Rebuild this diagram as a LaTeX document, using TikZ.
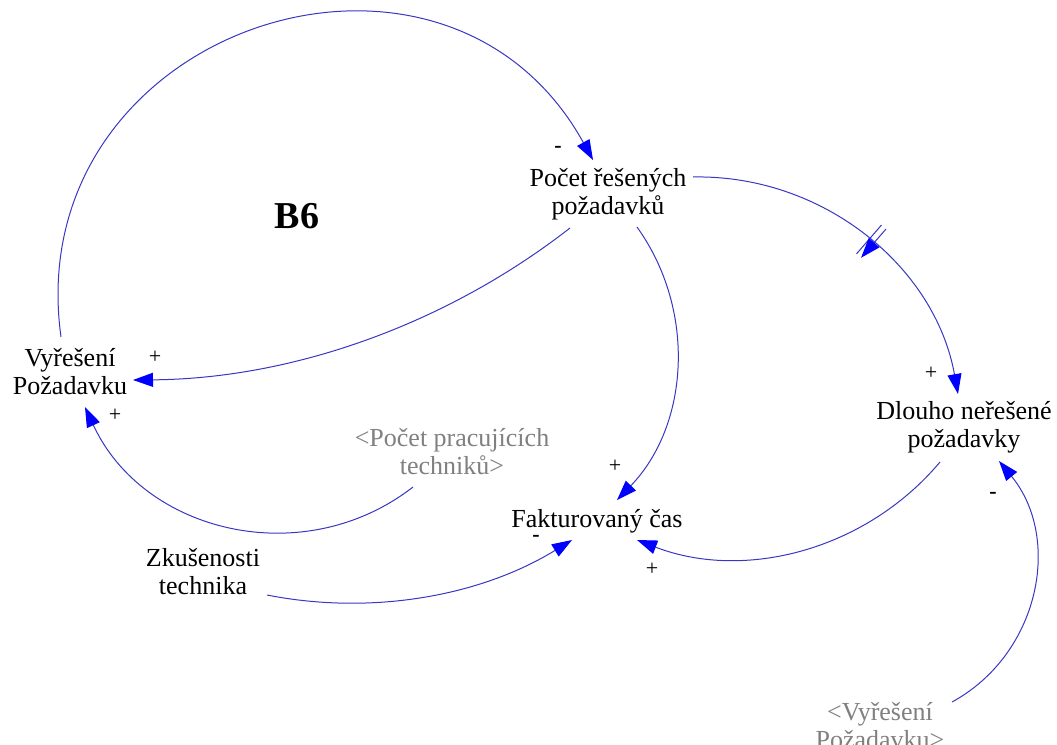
\documentclass[tikz,border=0pt]{standalone}
\usepackage{fontspec}
\setmainfont{Liberation Serif}
\usetikzlibrary{arrows.meta,decorations.markings}
\definecolor{linkblue}{RGB}{55,55,195}
\definecolor{headblue}{RGB}{0,0,255}
\definecolor{shadowtext}{RGB}{128,128,128}
\tikzset{
  var/.style={align=center, inner sep=0pt, font=\fontsize{26}{28}\selectfont,
    execute at begin node=\strut, execute at end node=\strut},
  shadowvar/.style={var, text=shadowtext},
  link/.style={draw=linkblue, line width=1pt,
    -{Triangle[length=20pt,width=14pt,color=headblue]}},
  polarity/.style={font=\fontsize{22}{24}\selectfont, inner sep=0pt},
  negpolarity/.style={font=\fontsize{22}{24}\selectfont\bfseries, inner sep=0pt},
  delaymark/.style={postaction={decorate}, decoration={markings,
    mark=at position #1 with {\draw[linkblue, line width=1pt]
      (-3,-19) -- (-3,19) (3,-19) -- (3,19);}}},
}
\begin{document}
\begin{tikzpicture}[x=1pt, y=-1pt]
\path[use as bounding box] (0,0) rectangle (1057,744);

% variables
\node[var] (pocet) at (608,195.4) {Počet řešených\\požadavků};
\node[var] (vr) at (70,375.4) {Vyřešení\\Požadavku};
\node[var] (dl) at (964,428.4) {Dlouho neřešené\\požadavky};
\node[var] (fk) at (597,521.4) {Fakturovaný čas};
\node[var] (zk) at (203,575.4) {Zkušenosti\\technika};
\node[shadowvar] (ppt) at (452,455.4) {<Počet pracujících\\techniků>};
\node[shadowvar] (vrg) at (880,729.4) {<Vyřešení\\Požadavku>};

% loop label
\node[font=\fontsize{38}{40}\selectfont\bfseries, anchor=base, inner sep=0pt] (loop) at (297,228) {B6};

% causal links
\draw[link] ([shift={(-9,-38.4)}]vr.center) .. controls +(-42.5,-308) and +(-150.5,-272) .. ([shift={(-15,-35.4)}]pocet.center);
\draw[link] ([shift={(-38,32.6)}]pocet.center) .. controls +(-125.0,97.3) and +(158.4,-1.3) .. ([shift={(63,4.6)}]vr.center);
\draw[link] ([shift={(29,31.6)}]pocet.center) .. controls +(60.1,83.9) and +(71.7,-74.2) .. ([shift={(20,-21.4)}]fk.center);
\draw[link, delaymark=0.52] ([shift={(85,-18.4)}]pocet.center) .. controls +(129.7,-2.6) and +(-23.0,-127.7) .. ([shift={(-6,-34.4)}]dl.center);
\draw[link] ([shift={(-24,33.6)}]dl.center) .. controls +(-74.0,88.2) and +(107.4,41.4) .. ([shift={(40,18.6)}]fk.center);
\draw[link] ([shift={(72,-27.4)}]vrg.center) .. controls +(87.7,-47.9) and +(63.3,77.3) .. ([shift={(35,32.6)}]dl.center);
\draw[link] ([shift={(-39,31.6)}]ppt.center) .. controls +(-109.6,85.0) and +(58.2,125.9) .. ([shift={(15,31.6)}]vr.center);
\draw[link] ([shift={(64,19.6)}]zk.center) .. controls +(105.0,20.7) and +(-91.2,56.0) .. ([shift={(-25,18.6)}]fk.center);

% polarities
\node[negpolarity] (s1) at (558,149) {-};
\node[polarity] (s2) at (155,357) {+};
\node[polarity] (s3) at (115,415) {+};
\node[polarity] (s4) at (615,466) {+};
\node[negpolarity] (s5) at (536,538) {-};
\node[polarity] (s6) at (652,569) {+};
\node[polarity] (s7) at (931,373) {+};
\node[negpolarity] (s8) at (993,495) {-};
\end{tikzpicture}
\end{document}
